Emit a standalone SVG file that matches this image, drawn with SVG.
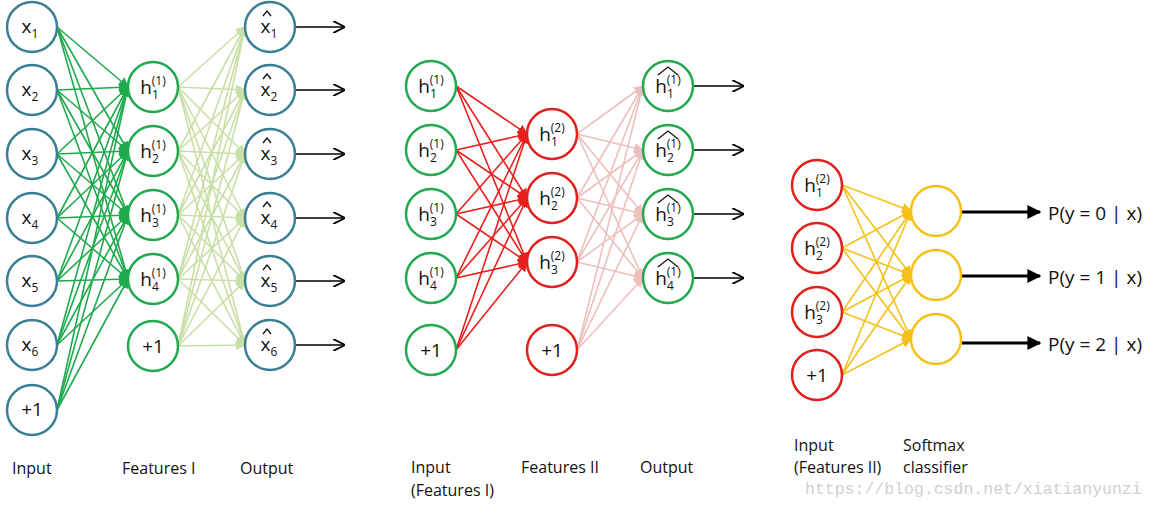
<svg xmlns="http://www.w3.org/2000/svg" width="1156" height="507" viewBox="0 0 1156 507">
<defs>
<marker id="mg" viewBox="0 0 10 10" refX="9" refY="5" markerWidth="10" markerHeight="10" markerUnits="userSpaceOnUse" orient="auto"><path d="M0,0 L10,5 L0,10 z" fill="#1faa4d"/></marker>
<marker id="ml" viewBox="0 0 10 10" refX="9" refY="5" markerWidth="10" markerHeight="10" markerUnits="userSpaceOnUse" orient="auto"><path d="M0,0 L10,5 L0,10 z" fill="#c8e0a6"/></marker>
<marker id="mr" viewBox="0 0 10 10" refX="9" refY="5" markerWidth="10" markerHeight="10" markerUnits="userSpaceOnUse" orient="auto"><path d="M0,0 L10,5 L0,10 z" fill="#e8201c"/></marker>
<marker id="mp" viewBox="0 0 10 10" refX="9" refY="5" markerWidth="10" markerHeight="10" markerUnits="userSpaceOnUse" orient="auto"><path d="M0,0 L10,5 L0,10 z" fill="#ecc0bd"/></marker>
<marker id="my" viewBox="0 0 10 10" refX="9" refY="5" markerWidth="10" markerHeight="10" markerUnits="userSpaceOnUse" orient="auto"><path d="M0,0 L10,5 L0,10 z" fill="#f5c118"/></marker>
<marker id="mk" viewBox="0 0 10 10" refX="9" refY="5" markerWidth="12" markerHeight="12" markerUnits="userSpaceOnUse" orient="auto"><path d="M0,0 L10,5 L0,10" fill="none" stroke="#000" stroke-width="1.5"/></marker>
<marker id="mK" viewBox="0 0 10 10" refX="9" refY="5" markerWidth="14" markerHeight="14" markerUnits="userSpaceOnUse" orient="auto"><path d="M0,0 L10,5 L0,10 z" fill="#000"/></marker>
</defs>
<style>
text{font-family:"Open Sans","Liberation Sans",sans-serif;fill:#111}
.n{font-size:19px;text-anchor:middle}
.s{font-size:12px}
.lab{font-size:16px}
.p{font-size:19px}
circle{fill:#fff;stroke-width:2.5}
.teal{stroke:#3b7f95}.grn{stroke:#22a94f}.red{stroke:#e0201e}.yel{stroke:#f5c118}
.eg line{stroke:#1faa4d;stroke-width:1.6;marker-end:url(#mg)}
.el line{stroke:#c8e0a6;stroke-width:1.6;marker-end:url(#ml)}
.er line{stroke:#e8201c;stroke-width:1.6;marker-end:url(#mr)}
.ep line{stroke:#ecc0bd;stroke-width:1.6;marker-end:url(#mp)}
.ey line{stroke:#f5c118;stroke-width:1.6;marker-end:url(#my)}
.ek line{stroke:#000;stroke-width:1.6;marker-end:url(#mk)}
.eK line{stroke:#000;stroke-width:3;marker-end:url(#mK)}
.hat{fill:none;stroke:#111;stroke-width:1.3}
</style>
<g id="connectors">
<g class="eg">
<line x1="57" y1="27" x2="128" y2="87"/><line x1="57" y1="27" x2="128" y2="151"/><line x1="57" y1="27" x2="128" y2="215"/><line x1="57" y1="27" x2="128" y2="279"/>
<line x1="57" y1="90" x2="128" y2="87"/><line x1="57" y1="90" x2="128" y2="151"/><line x1="57" y1="90" x2="128" y2="215"/><line x1="57" y1="90" x2="128" y2="279"/>
<line x1="57" y1="154" x2="128" y2="87"/><line x1="57" y1="154" x2="128" y2="151"/><line x1="57" y1="154" x2="128" y2="215"/><line x1="57" y1="154" x2="128" y2="279"/>
<line x1="57" y1="218" x2="128" y2="87"/><line x1="57" y1="218" x2="128" y2="151"/><line x1="57" y1="218" x2="128" y2="215"/><line x1="57" y1="218" x2="128" y2="279"/>
<line x1="57" y1="281" x2="128" y2="87"/><line x1="57" y1="281" x2="128" y2="151"/><line x1="57" y1="281" x2="128" y2="215"/><line x1="57" y1="281" x2="128" y2="279"/>
<line x1="57" y1="345" x2="128" y2="87"/><line x1="57" y1="345" x2="128" y2="151"/><line x1="57" y1="345" x2="128" y2="215"/><line x1="57" y1="345" x2="128" y2="279"/>
<line x1="57" y1="410" x2="128" y2="87"/><line x1="57" y1="410" x2="128" y2="151"/><line x1="57" y1="410" x2="128" y2="215"/><line x1="57" y1="410" x2="128" y2="279"/>
</g>
<g class="el">
<line x1="178" y1="87" x2="245" y2="27"/><line x1="178" y1="87" x2="245" y2="90"/><line x1="178" y1="87" x2="245" y2="154"/><line x1="178" y1="87" x2="245" y2="218"/><line x1="178" y1="87" x2="245" y2="281"/><line x1="178" y1="87" x2="245" y2="345"/>
<line x1="178" y1="151" x2="245" y2="27"/><line x1="178" y1="151" x2="245" y2="90"/><line x1="178" y1="151" x2="245" y2="154"/><line x1="178" y1="151" x2="245" y2="218"/><line x1="178" y1="151" x2="245" y2="281"/><line x1="178" y1="151" x2="245" y2="345"/>
<line x1="178" y1="215" x2="245" y2="27"/><line x1="178" y1="215" x2="245" y2="90"/><line x1="178" y1="215" x2="245" y2="154"/><line x1="178" y1="215" x2="245" y2="218"/><line x1="178" y1="215" x2="245" y2="281"/><line x1="178" y1="215" x2="245" y2="345"/>
<line x1="178" y1="279" x2="245" y2="27"/><line x1="178" y1="279" x2="245" y2="90"/><line x1="178" y1="279" x2="245" y2="154"/><line x1="178" y1="279" x2="245" y2="218"/><line x1="178" y1="279" x2="245" y2="281"/><line x1="178" y1="279" x2="245" y2="345"/>
<line x1="178" y1="346" x2="245" y2="27"/><line x1="178" y1="346" x2="245" y2="90"/><line x1="178" y1="346" x2="245" y2="154"/><line x1="178" y1="346" x2="245" y2="218"/><line x1="178" y1="346" x2="245" y2="281"/><line x1="178" y1="346" x2="245" y2="345"/>
</g>
<g class="ek">
<line x1="295" y1="27" x2="344" y2="27"/><line x1="295" y1="90" x2="344" y2="90"/><line x1="295" y1="154" x2="344" y2="154"/><line x1="295" y1="218" x2="344" y2="218"/><line x1="295" y1="281" x2="344" y2="281"/><line x1="295" y1="345" x2="344" y2="345"/>
<line x1="693" y1="86" x2="743" y2="86"/><line x1="693" y1="150" x2="743" y2="150"/><line x1="693" y1="214" x2="743" y2="214"/><line x1="693" y1="278" x2="743" y2="278"/>
</g>
<g class="er">
<line x1="456" y1="86" x2="527" y2="134"/><line x1="456" y1="86" x2="527" y2="198"/><line x1="456" y1="86" x2="527" y2="262"/>
<line x1="456" y1="150" x2="527" y2="134"/><line x1="456" y1="150" x2="527" y2="198"/><line x1="456" y1="150" x2="527" y2="262"/>
<line x1="456" y1="214" x2="527" y2="134"/><line x1="456" y1="214" x2="527" y2="198"/><line x1="456" y1="214" x2="527" y2="262"/>
<line x1="456" y1="278" x2="527" y2="134"/><line x1="456" y1="278" x2="527" y2="198"/><line x1="456" y1="278" x2="527" y2="262"/>
<line x1="456" y1="350" x2="527" y2="134"/><line x1="456" y1="350" x2="527" y2="198"/><line x1="456" y1="350" x2="527" y2="262"/>
</g>
<g class="ep">
<line x1="577" y1="134" x2="643" y2="86"/><line x1="577" y1="134" x2="643" y2="150"/><line x1="577" y1="134" x2="643" y2="214"/><line x1="577" y1="134" x2="643" y2="278"/>
<line x1="577" y1="198" x2="643" y2="86"/><line x1="577" y1="198" x2="643" y2="150"/><line x1="577" y1="198" x2="643" y2="214"/><line x1="577" y1="198" x2="643" y2="278"/>
<line x1="577" y1="262" x2="643" y2="86"/><line x1="577" y1="262" x2="643" y2="150"/><line x1="577" y1="262" x2="643" y2="214"/><line x1="577" y1="262" x2="643" y2="278"/>
<line x1="577" y1="350" x2="643" y2="86"/><line x1="577" y1="350" x2="643" y2="150"/><line x1="577" y1="350" x2="643" y2="214"/><line x1="577" y1="350" x2="643" y2="278"/>
</g>
<g class="ey">
<line x1="842" y1="185" x2="911" y2="211"/><line x1="842" y1="185" x2="911" y2="275"/><line x1="842" y1="185" x2="911" y2="339"/>
<line x1="842" y1="248" x2="911" y2="211"/><line x1="842" y1="248" x2="911" y2="275"/><line x1="842" y1="248" x2="911" y2="339"/>
<line x1="842" y1="312" x2="911" y2="211"/><line x1="842" y1="312" x2="911" y2="275"/><line x1="842" y1="312" x2="911" y2="339"/>
<line x1="842" y1="375" x2="911" y2="211"/><line x1="842" y1="375" x2="911" y2="275"/><line x1="842" y1="375" x2="911" y2="339"/>
</g>
<g class="eK">
<line x1="962" y1="212" x2="1040" y2="212"/><line x1="962" y1="276" x2="1040" y2="276"/><line x1="962" y1="343" x2="1040" y2="343"/>
</g>
</g>
<g id="x1"><circle class="teal" cx="32" cy="27" r="25"/><text class="n" x="30" y="33">x<tspan class="s" dy="5">1</tspan></text></g>
<g id="x2"><circle class="teal" cx="32" cy="90" r="25"/><text class="n" x="30" y="96">x<tspan class="s" dy="5">2</tspan></text></g>
<g id="x3"><circle class="teal" cx="32" cy="154" r="25"/><text class="n" x="30" y="160">x<tspan class="s" dy="5">3</tspan></text></g>
<g id="x4"><circle class="teal" cx="32" cy="218" r="25"/><text class="n" x="30" y="224">x<tspan class="s" dy="5">4</tspan></text></g>
<g id="x5"><circle class="teal" cx="32" cy="281" r="25"/><text class="n" x="30" y="287">x<tspan class="s" dy="5">5</tspan></text></g>
<g id="x6"><circle class="teal" cx="32" cy="345" r="25"/><text class="n" x="30" y="351">x<tspan class="s" dy="5">6</tspan></text></g>
<g id="b1"><circle class="teal" cx="32" cy="410" r="25"/><text class="n" x="32" y="416">+1</text></g>
<g id="h1"><circle class="grn" cx="153" cy="87" r="25"/><text class="n" x="153" y="94">h<tspan class="s" dy="5">1</tspan><tspan class="s" dx="-7" dy="-14">(1)</tspan></text></g>
<g id="h2"><circle class="grn" cx="153" cy="151" r="25"/><text class="n" x="153" y="158">h<tspan class="s" dy="5">2</tspan><tspan class="s" dx="-7" dy="-14">(1)</tspan></text></g>
<g id="h3"><circle class="grn" cx="153" cy="215" r="25"/><text class="n" x="153" y="222">h<tspan class="s" dy="5">3</tspan><tspan class="s" dx="-7" dy="-14">(1)</tspan></text></g>
<g id="h4"><circle class="grn" cx="153" cy="279" r="25"/><text class="n" x="153" y="286">h<tspan class="s" dy="5">4</tspan><tspan class="s" dx="-7" dy="-14">(1)</tspan></text></g>
<g id="hb"><circle class="grn" cx="153" cy="346" r="25"/><text class="n" x="153" y="353">+1</text></g>
<g id="o1"><circle class="teal" cx="270" cy="27" r="25"/><text class="n" x="269" y="33">x<tspan class="s" dy="5">1</tspan></text><polyline class="hat" points="263,16 267,11 271,16"/></g>
<g id="o2"><circle class="teal" cx="270" cy="90" r="25"/><text class="n" x="269" y="96">x<tspan class="s" dy="5">2</tspan></text><polyline class="hat" points="263,79 267,74 271,79"/></g>
<g id="o3"><circle class="teal" cx="270" cy="154" r="25"/><text class="n" x="269" y="160">x<tspan class="s" dy="5">3</tspan></text><polyline class="hat" points="263,143 267,138 271,143"/></g>
<g id="o4"><circle class="teal" cx="270" cy="218" r="25"/><text class="n" x="269" y="224">x<tspan class="s" dy="5">4</tspan></text><polyline class="hat" points="263,207 267,202 271,207"/></g>
<g id="o5"><circle class="teal" cx="270" cy="281" r="25"/><text class="n" x="269" y="287">x<tspan class="s" dy="5">5</tspan></text><polyline class="hat" points="263,270 267,265 271,270"/></g>
<g id="o6"><circle class="teal" cx="270" cy="345" r="25"/><text class="n" x="269" y="351">x<tspan class="s" dy="5">6</tspan></text><polyline class="hat" points="263,334 267,329 271,334"/></g>
<g id="p2i1"><circle class="grn" cx="431" cy="86" r="25"/><text class="n" x="431" y="93">h<tspan class="s" dy="5">1</tspan><tspan class="s" dx="-7" dy="-14">(1)</tspan></text></g>
<g id="p2i2"><circle class="grn" cx="431" cy="150" r="25"/><text class="n" x="431" y="157">h<tspan class="s" dy="5">2</tspan><tspan class="s" dx="-7" dy="-14">(1)</tspan></text></g>
<g id="p2i3"><circle class="grn" cx="431" cy="214" r="25"/><text class="n" x="431" y="221">h<tspan class="s" dy="5">3</tspan><tspan class="s" dx="-7" dy="-14">(1)</tspan></text></g>
<g id="p2i4"><circle class="grn" cx="431" cy="278" r="25"/><text class="n" x="431" y="285">h<tspan class="s" dy="5">4</tspan><tspan class="s" dx="-7" dy="-14">(1)</tspan></text></g>
<g id="p2ib"><circle class="grn" cx="431" cy="350" r="25"/><text class="n" x="431" y="357">+1</text></g>
<g id="f2h1"><circle class="red" cx="552" cy="134" r="25"/><text class="n" x="552" y="141">h<tspan class="s" dy="5">1</tspan><tspan class="s" dx="-7" dy="-14">(2)</tspan></text></g>
<g id="f2h2"><circle class="red" cx="552" cy="198" r="25"/><text class="n" x="552" y="205">h<tspan class="s" dy="5">2</tspan><tspan class="s" dx="-7" dy="-14">(2)</tspan></text></g>
<g id="f2h3"><circle class="red" cx="552" cy="262" r="25"/><text class="n" x="552" y="269">h<tspan class="s" dy="5">3</tspan><tspan class="s" dx="-7" dy="-14">(2)</tspan></text></g>
<g id="f2hb"><circle class="red" cx="552" cy="350" r="25"/><text class="n" x="552" y="357">+1</text></g>
<g id="p2o1"><circle class="grn" cx="668" cy="86" r="25"/><text class="n" x="668" y="93">h<tspan class="s" dy="5">1</tspan><tspan class="s" dx="-7" dy="-14">(1)</tspan></text><polyline class="hat" points="658,75 668,67 678,75"/></g>
<g id="p2o2"><circle class="grn" cx="668" cy="150" r="25"/><text class="n" x="668" y="157">h<tspan class="s" dy="5">2</tspan><tspan class="s" dx="-7" dy="-14">(1)</tspan></text><polyline class="hat" points="658,139 668,131 678,139"/></g>
<g id="p2o3"><circle class="grn" cx="668" cy="214" r="25"/><text class="n" x="668" y="221">h<tspan class="s" dy="5">3</tspan><tspan class="s" dx="-7" dy="-14">(1)</tspan></text><polyline class="hat" points="658,203 668,195 678,203"/></g>
<g id="p2o4"><circle class="grn" cx="668" cy="278" r="25"/><text class="n" x="668" y="285">h<tspan class="s" dy="5">4</tspan><tspan class="s" dx="-7" dy="-14">(1)</tspan></text><polyline class="hat" points="658,267 668,259 678,267"/></g>
<g id="p3i1"><circle class="red" cx="817" cy="185" r="25"/><text class="n" x="817" y="192">h<tspan class="s" dy="5">1</tspan><tspan class="s" dx="-7" dy="-14">(2)</tspan></text></g>
<g id="p3i2"><circle class="red" cx="817" cy="248" r="25"/><text class="n" x="817" y="255">h<tspan class="s" dy="5">2</tspan><tspan class="s" dx="-7" dy="-14">(2)</tspan></text></g>
<g id="p3i3"><circle class="red" cx="817" cy="312" r="25"/><text class="n" x="817" y="319">h<tspan class="s" dy="5">3</tspan><tspan class="s" dx="-7" dy="-14">(2)</tspan></text></g>
<g id="p3ib"><circle class="red" cx="817" cy="375" r="25"/><text class="n" x="817" y="382">+1</text></g>
<g id="s1"><circle class="yel" cx="936" cy="211" r="25"/></g>
<g id="s2"><circle class="yel" cx="936" cy="275" r="25"/></g>
<g id="s3"><circle class="yel" cx="936" cy="339" r="25"/></g>
<g id="labels">
<text class="p" x="1048" y="220">P(y = 0 | x)</text>
<text class="p" x="1048" y="284">P(y = 1 | x)</text>
<text class="p" x="1048" y="351">P(y = 2 | x)</text>
<text class="lab" x="12" y="474">Input</text>
<text class="lab" x="122" y="474">Features I</text>
<text class="lab" x="240" y="474">Output</text>
<text class="lab" x="411" y="473">Input</text>
<text class="lab" x="411" y="496">(Features I)</text>
<text class="lab" x="521" y="473">Features II</text>
<text class="lab" x="640" y="473">Output</text>
<text class="lab" x="794" y="451">Input</text>
<text class="lab" x="794" y="473">(Features II)</text>
<text class="lab" x="903" y="451">Softmax</text>
<text class="lab" x="903" y="473">classifier</text>
<text x="805" y="494" style="font-family:'Liberation Mono','DejaVu Sans Mono',monospace;font-size:16.5px;fill:#d0d0d0">https://blog.csdn.net/xiatianyunzi</text>
</g>
</svg>
